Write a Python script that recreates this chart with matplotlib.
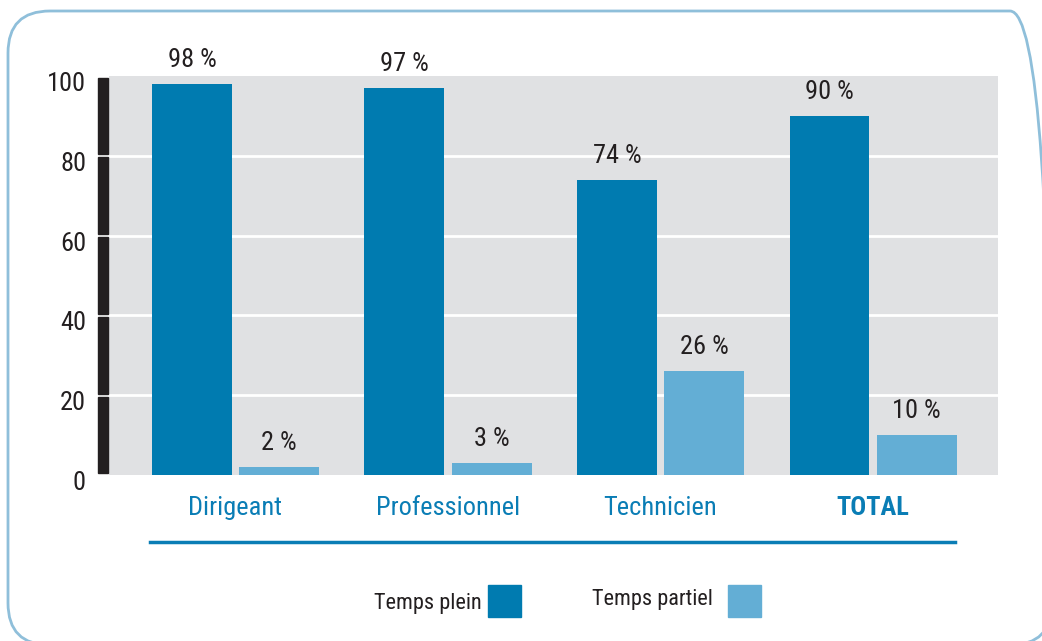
import numpy as np
import matplotlib.pyplot as plt
import matplotlib.transforms as mtransforms
from matplotlib import font_manager
from matplotlib.patches import FancyBboxPatch, Rectangle
from matplotlib.lines import Line2D

names = {f.name for f in font_manager.fontManager.ttflist}
fams = [f for f in ['Liberation Sans Narrow', 'DejaVu Sans Condensed', 'Roboto Condensed',
                    'Roboto', 'DejaVu Sans'] if f in names]
plt.rcParams['font.family'] = fams

categories = ['Dirigeant', 'Professionnel', 'Technicien', 'TOTAL']
temps_plein = [98, 97, 74, 90]
temps_partiel = [2, 3, 26, 10]
series_names = ['Temps plein', 'Temps partiel']
y_ticks = [0, 20, 40, 60, 80, 100]

c_plein = '#007bb0'
c_partiel = '#63aed5'
c_label = '#0a7db5'
c_text = '#231f20'

fig = plt.figure(figsize=(10.42, 6.41), dpi=100)
W, H = 1042, 641

# rounded frame in a pixel-sized background axes, running off right and bottom
bg = fig.add_axes([0, 0, 1, 1])
bg.set_xlim(0, W)
bg.set_ylim(0, H)
bg.axis('off')
bg.add_patch(FancyBboxPatch((8, -4), 1044, 634,
                            boxstyle='round,pad=0,rounding_size=42',
                            fill=False, edgecolor='#8fbfda', linewidth=2))

ax = fig.add_axes([109 / W, 1 - 475 / H, (998 - 109) / W, (475 - 76) / H])
x = np.arange(len(categories))
off = 0.205
w = 0.376
ax.set_facecolor('#e0e1e3')
b1 = ax.bar(x - off, temps_plein, w, color=c_plein, zorder=3)
b2 = ax.bar(x + off, temps_partiel, w, color=c_partiel, zorder=3)
for bars, vals in ((b1, temps_plein), (b2, temps_partiel)):
    for b, v in zip(bars, vals):
        ax.text(b.get_x() + b.get_width() / 2, v + 3, f'{v} %', ha='center',
                va='bottom', fontsize=19, color=c_text, zorder=4)

ax.set_xlim(-0.595, 3.588)
ax.set_ylim(0, 100)
ax.set_yticks(y_ticks)
ax.set_yticklabels([])
ax.tick_params(axis='y', length=0)
ax.set_xticks([])

# y labels, sitting a bit below their gridline like the original
shift = mtransforms.ScaledTranslation(0, -8 / 100, fig.dpi_scale_trans)
for t in y_ticks:
    ax.text(-23 / 889, t, str(t), ha='right', va='center', fontsize=19, color=c_text,
            transform=ax.get_yaxis_transform() + shift, clip_on=False)

for t in y_ticks[1:-1]:
    ax.axhline(t, color='white', linewidth=2, zorder=2)
for s in ax.spines.values():
    s.set_visible(False)

# black axis bar with white gaps at gridlines
for lo, hi in zip(y_ticks[:-1], y_ticks[1:]):
    ax.add_patch(Rectangle((-0.595 - 11 / 212.5, lo + 0.4), 10 / 212.5, hi - lo - 0.8,
                           color=c_text, clip_on=False, zorder=5))

# category labels
for i, c in enumerate(categories):
    ax.text(i, -8.3, c, ha='center', va='center', fontsize=19, color=c_label,
            fontweight='bold' if c == 'TOTAL' else 'normal')

fig.add_artist(Line2D([150 / W, 955 / W], [1 - 542 / H, 1 - 542 / H],
                      color=c_label, linewidth=2.5))

# legend
fig.text(482 / W, 1 - 603 / H, series_names[0], ha='right', va='center',
         fontsize=16, color=c_text)
fig.add_artist(Rectangle((488 / W, 1 - 617 / H), 33 / W, 32 / H, color=c_plein,
                         transform=fig.transFigure))
fig.text(713 / W, 1 - 600 / H, series_names[1], ha='right', va='center',
         fontsize=16, color=c_text)
fig.add_artist(Rectangle((728 / W, 1 - 617 / H), 33 / W, 32 / H, color=c_partiel,
                         transform=fig.transFigure))

fig.savefig('out.png', dpi=100)
